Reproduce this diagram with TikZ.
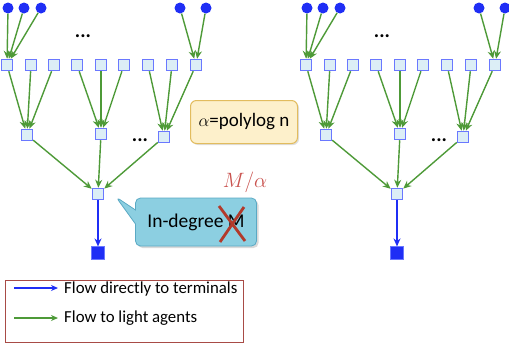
\documentclass[tikz,border=0pt]{standalone}
\usepackage{fontspec}
\setmainfont{Carlito}
\usetikzlibrary{arrows.meta,shapes.callouts,shadows}
\definecolor{flowgreen}{HTML}{4E9A38}
\definecolor{flowblue}{HTML}{1F2EF5}
\definecolor{agentfill}{HTML}{DCEEF6}
\definecolor{agentline}{HTML}{6A78FF}
\definecolor{notefill}{HTML}{FDF0CB}
\definecolor{noteline}{HTML}{E2BC5E}
\definecolor{callfill}{HTML}{8CCFE1}
\definecolor{callline}{HTML}{5AA9C4}
\definecolor{crossred}{HTML}{B23A2B}
\definecolor{labelred}{HTML}{C9524E}
\definecolor{legendline}{HTML}{A84B46}
\tikzset{
  src/.style={circle,fill=flowblue,inner sep=0pt,minimum size=11pt},
  agent/.style={rectangle,draw=agentline,fill=agentfill,line width=1pt,inner sep=0pt,minimum size=11.5pt},
  term/.style={rectangle,fill=flowblue,draw=agentline,line width=0.6pt,inner sep=0pt,minimum size=12.5pt},
  gflow/.style={draw=flowgreen,line width=1.4pt,-{Stealth[length=8pt,width=7pt]}},
  bflow/.style={draw=flowblue,line width=1.4pt,-{Stealth[length=8pt,width=7pt]}},
  dots/.style={inner sep=0pt,font=\bfseries\fontsize{20}{22}\selectfont},
}
\newcommand{\buildtree}[2]{%
  % #1: x offset, #2: name prefix
  \begin{scope}[xshift=#1]
    \foreach \i/\x in {1/8,2/24,3/41,4/180,5/206}
      \node[src] (#2c\i) at (\x,8) {};
    \foreach \i/\x in {1/7,2/31,3/54,4/77,5/101,6/124,7/148,8/172,9/196}
      \node[agent] (#2s\i) at (\x,65) {};
    \node[agent] (#2m1) at (27,135) {};
    \node[agent] (#2m2) at (101,134) {};
    \node[agent] (#2m3) at (164,137) {};
    \node[agent] (#2r) at (98,194) {};
    \node[term] (#2t) at (98,253) {};
    \node[dots] (#2d1) at (83,36) {...};
    \node[dots] (#2d2) at (140,140) {...};
  \end{scope}
  \foreach \i in {1,2,3} \draw[gflow] (#2c\i) -- (#2s1);
  \foreach \i in {4,5} \draw[gflow] (#2c\i) -- (#2s9);
  \foreach \i in {1,2,3} \draw[gflow] (#2s\i) -- (#2m1);
  \foreach \i in {4,5,6} \draw[gflow] (#2s\i) -- (#2m2);
  \foreach \i in {7,8,9} \draw[gflow] (#2s\i) -- (#2m3);
  \foreach \i in {1,2,3} \draw[gflow] (#2m\i) -- (#2r);
  \draw[bflow] (#2r) -- (#2t);
}
\begin{document}
\begin{tikzpicture}[x=1pt,y=-1pt]
  \useasboundingbox (0,0) rectangle (509,343);
  \buildtree{0pt}{L}
  \buildtree{299pt}{R}
  % note on alpha
  \node[draw=noteline,fill=notefill,line width=1pt,rounded corners=6pt,
        minimum width=107pt,minimum height=43pt,font=\fontsize{19}{21}\selectfont,
        drop shadow={opacity=0.25,shadow xshift=1.5pt,shadow yshift=-1.5pt}]
        (note) at (244,122) {$\alpha$=polylog n};
  % callout on in-degree
  \coordinate (tip) at (116,197);
  \node[rectangle callout,callout absolute pointer={(tip)},callout pointer width=14pt,
        draw=callline,fill=callfill,line width=0.8pt,rounded corners=5pt,
        minimum width=121pt,minimum height=48pt,
        drop shadow={opacity=0.3,shadow xshift=2pt,shadow yshift=-2pt},
        font=\fontsize{19.5}{21}\selectfont]
        (call) at (196,222) {In-degree M};
  \coordinate (xa) at (219,206);
  \coordinate (xb) at (245,241);
  \coordinate (xc) at (244,207);
  \coordinate (xd) at (220,242);
  \draw[crossred,line width=2.8pt] (xa) -- (xb) (xc) -- (xd);
  \node[text=labelred,font=\fontsize{22}{24}\selectfont] (mlabel) at (245,182) {$M/\alpha$};
  % legend
  \node[draw=legendline,line width=0.9pt,minimum width=238pt,minimum height=62pt,
        inner sep=0pt] (legend) at (124,311) {};
  \coordinate (a1) at (14,288);
  \coordinate (a2) at (58,288);
  \coordinate (b1) at (14,318);
  \coordinate (b2) at (58,318);
  \draw[bflow,-{Stealth[length=7pt,width=6pt]}] (a1) -- (a2);
  \draw[gflow,-{Stealth[length=7pt,width=6pt]}] (b1) -- (b2);
  \node[anchor=west,font=\fontsize{16.8}{18}\selectfont,inner sep=0pt] (l1) at (64,289) {Flow directly to terminals};
  \node[anchor=west,font=\fontsize{16.8}{18}\selectfont,inner sep=0pt] (l2) at (64,318) {Flow to light agents};
\end{tikzpicture}
\end{document}
